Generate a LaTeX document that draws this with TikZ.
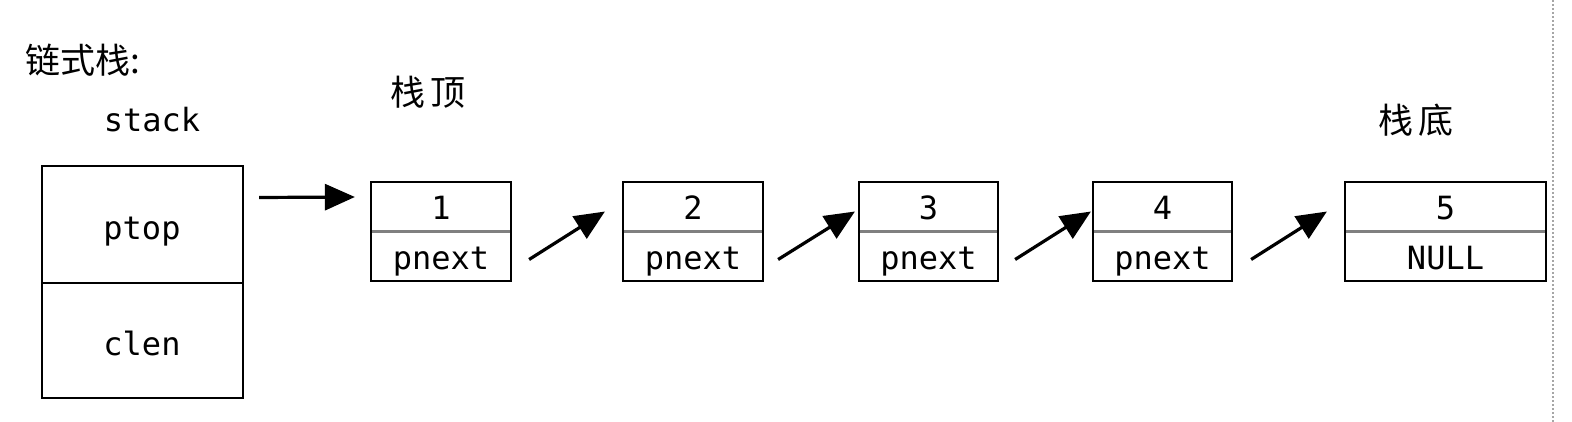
\documentclass[tikz,border=0pt]{standalone}
\usepackage{fontspec}
\newfontfamily\cjk{Noto Sans CJK SC}
\newfontfamily\monofont{DejaVu Sans Mono}
\usetikzlibrary{arrows.meta}

\tikzset{
  cell/.style={draw, line width=1.1pt, inner sep=0pt, minimum width=70pt, minimum height=49.5pt},
  field/.style={font=\monofont\fontsize{16}{16}\selectfont, inner sep=0pt, anchor=base},
  han/.style={font=\cjk\fontsize{17.5}{17.5}\selectfont, inner sep=0pt},
  divider/.style={draw=gray, line width=1.5pt},
  link/.style={-{Triangle[length=15pt, width=13pt]}, line width=1.6pt}
}

\begin{document}
\begin{tikzpicture}[x=0.5pt, y=-0.5pt]
\useasboundingbox (0, 0) rectangle (1572, 422);

% Titles
\node [han, anchor=west] (title) at (25, 60) {链式栈:};
\node [han] (toplbl) at (428, 92) {栈\,顶};
\node [han] (botlbl) at (1416, 120) {栈\,底};
\node [field] (stacklbl) at (152, 132) {stack};

% Stack header
\node [cell, minimum width=100.5pt, minimum height=58.5pt] (ptop) at (142.5, 224.5) {};
\node [cell, minimum width=100.5pt, minimum height=57.5pt] (clen) at (142.5, 340.5) {};
\node [field] at (142, 240) {ptop};
\node [field] at (142, 355) {clen};

% Nodes
\foreach \name/\x/\val/\ptr/\w in {n1/441/1/pnext/70pt, n2/693/2/pnext/70pt, n3/928.5/3/pnext/69.5pt, n4/1162.5/4/pnext/69.5pt, n5/1445.5/5/NULL/100.5pt} {
  \node [cell, minimum width=\w] (\name) at (\x, 231.5) {};
  \draw [divider] ([xshift=1pt]\name.west) -- ([xshift=-1pt]\name.east);
  \node [field] (\name val) at (\x, 220) {\val};
  \node [field] (\name ptr) at (\x, 270) {\ptr};
}

% Pointers
\draw [link] ([shift={(15, -27)}]ptop.east) -- ([shift={(-15, -34.5)}]n1.west);
\foreach \a/\b/\s/\e in {n1/n2/17/17, n2/n3/14/3, n3/n4/16/1, n4/n5/18/17}
  \draw [link] ([shift={(\s, 28)}]\a.east) -- ([shift={(-\e, -20)}]\b.west);

% Page edge
\draw [gray!70, line width=1pt, dash pattern=on 1pt off 1pt] (1553, 0) -- (1553, 422);
\end{tikzpicture}
\end{document}
